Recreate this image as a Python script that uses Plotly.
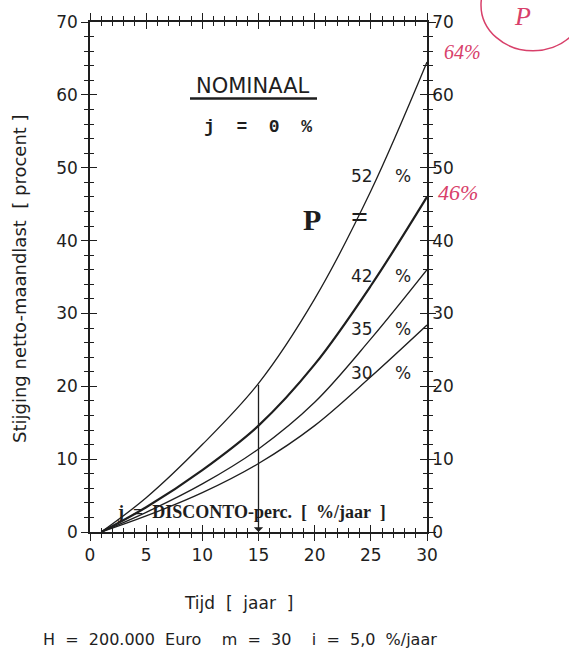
import plotly.graph_objects as go

# ---- data ----
years = [1, 5, 10, 15, 20, 25, 30]
p52 = [0, 4.7, 12.0, 20.4, 32.0, 46.8, 64.5]
p42 = [0, 3.4, 8.5, 14.6, 23.0, 33.8, 46.0]
p35 = [0, 2.7, 6.6, 11.4, 17.8, 26.5, 36.0]
p30 = [0, 2.2, 5.4, 9.4, 14.6, 21.3, 28.4]
curve_labels = ["52", "42", "35", "30"]
label_y = [48.8, 35.2, 27.9, 21.8]
x_ticks = [0, 5, 10, 15, 20, 25, 30]
y_ticks = [0, 10, 20, 30, 40, 50, 60, 70]
marked_year = 15

INK = "#1e1e1e"
FONT = "DejaVu Sans"
SERIF = "Liberation Serif"

fig = go.Figure()
for ys, w in [(p52, 1.3), (p42, 2.2), (p35, 1.3), (p30, 1.3)]:
    fig.add_trace(go.Scatter(x=years, y=ys, mode="lines",
                             line=dict(color=INK, width=w, shape="spline", smoothing=1.0),
                             showlegend=False, hoverinfo="skip"))

# invisible trace on overlay axes so they render
fig.add_trace(go.Scatter(x=[0], y=[0], xaxis="x2", yaxis="y2", mode="markers",
                         marker=dict(opacity=0), showlegend=False, hoverinfo="skip"))

common = dict(showgrid=False, zeroline=False, linecolor=INK, linewidth=1.6,
              tickcolor=INK, tickwidth=1.4, mirror="ticks")
fig.update_layout(
    width=569, height=655,
    margin=dict(l=90, r=142, t=18, b=123),
    paper_bgcolor="white", plot_bgcolor="white",
    xaxis=dict(range=[0, 30], tickvals=x_ticks, ticks="outside", ticklen=7,
               minor=dict(dtick=1, ticks="outside", ticklen=4, tickcolor=INK, tickwidth=1.2),
               tickfont=dict(family=FONT, size=17, color=INK), **common),
    xaxis2=dict(range=[0, 30], overlaying="x", side="bottom", tickvals=x_ticks,
                ticks="inside", ticklen=7, showticklabels=False,
                minor=dict(dtick=1, ticks="inside", ticklen=4, tickcolor=INK, tickwidth=1.2),
                **common),
    yaxis=dict(range=[0, 70], tickvals=y_ticks, ticks="outside", ticklen=7,
               minor=dict(dtick=2, ticks="outside", ticklen=4, tickcolor=INK, tickwidth=1.2),
               tickfont=dict(family=FONT, size=17, color=INK), **common),
    yaxis2=dict(range=[0, 70], overlaying="y", side="right", tickvals=y_ticks,
                ticks="inside", ticklen=7, showticklabels=True,
                minor=dict(dtick=2, ticks="inside", ticklen=4, tickcolor=INK, tickwidth=1.2),
                tickfont=dict(family=FONT, size=17, color=INK), **common),
)


def px_x(px):
    return (px - 90) / 337


def px_y(py):
    return (532 - py) / 514


ann = []
# curve labels
for lab, ly in zip(curve_labels, label_y):
    ann.append(dict(x=24.2, y=ly, text=lab, showarrow=False,
                    font=dict(family=FONT, size=17, color=INK)))
    ann.append(dict(x=27.9, y=ly, text="%", showarrow=False,
                    font=dict(family=FONT, size=17, color=INK)))
ann.append(dict(x=19.8, y=42.9, text="<b>P</b>", showarrow=False,
                font=dict(family=SERIF, size=30, color=INK)))
ann.append(dict(x=24.0, y=43.3, text="<b>=</b>", showarrow=False,
                font=dict(family=SERIF, size=30, color=INK)))
ann.append(dict(x=14.4, y=2.8, text="<b>j  =  DISCONTO-perc.  [  %/jaar  ]</b>", showarrow=False,
                font=dict(family=SERIF, size=18, color=INK)))
# arrow at marked year
top_val = p52[years.index(marked_year)]
ann.append(dict(x=marked_year, y=0, ax=marked_year, ay=top_val, axref="x", ayref="y",
                xref="x", yref="y", showarrow=True, arrowhead=1, arrowsize=1.2,
                arrowwidth=1.3, arrowcolor=INK, text=""))


def paper_text(px, py, text, size, family=FONT, color=INK, angle=0):
    return dict(x=px_x(px), y=px_y(py), xref="paper", yref="paper", text=text,
                showarrow=False, xanchor="center", yanchor="middle", textangle=angle,
                font=dict(family=family, size=size, color=color))


ann.append(paper_text(253, 82, "NOMINAAL", 21))
ann.append(paper_text(258, 124, "<b>j  =  0  %</b>", 18, family="Liberation Mono"))
ann.append(paper_text(20, 277, "Stijging netto-maandlast  [ procent ]", 18, angle=-90))
ann.append(paper_text(238, 604, "Tijd  [  jaar  ]", 17))
ann.append(paper_text(240, 640, "H  =  200.000  Euro    m  =  30    i  =  5,0  %/jaar", 16))
# red handwritten notes
RED = "#d8406a"
ann.append(paper_text(463, 48, "<i>64%</i>", 20, family=SERIF, color=RED))
ann.append(paper_text(458, 190, "<i>46%</i>", 22, family=SERIF, color=RED))
ann.append(paper_text(522, 12, "<i>P</i>", 26, family=SERIF, color=RED))
fig.update_layout(annotations=ann)

fig.add_shape(type="line", xref="paper", yref="paper",
              x0=px_x(190), x1=px_x(317), y0=px_y(95), y1=px_y(95),
              line=dict(color=INK, width=2.5))
fig.add_shape(type="circle", xref="paper", yref="paper",
              x0=px_x(481), x1=px_x(585), y0=px_y(47), y1=px_y(-45),
              line=dict(color=RED, width=1.5))

fig.write_html("out.html")
